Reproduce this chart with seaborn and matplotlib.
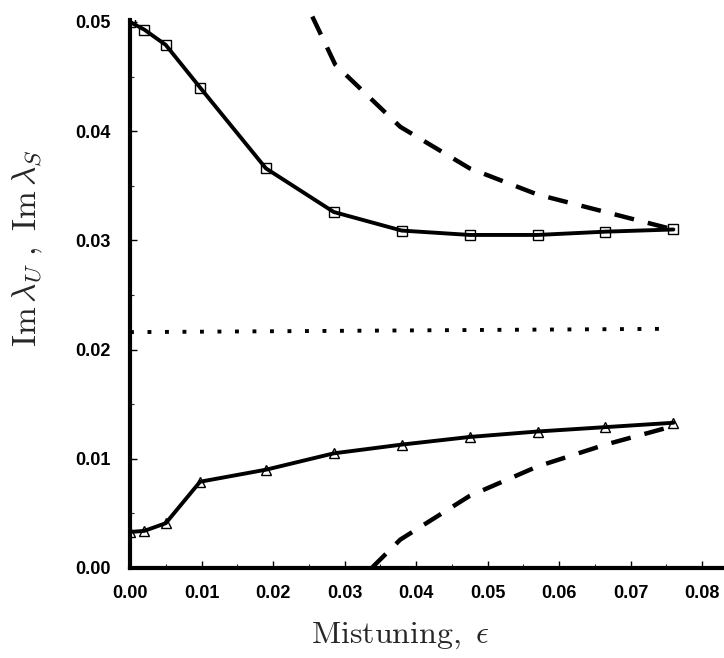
import matplotlib
matplotlib.use("Agg")
import matplotlib.pyplot as plt
import seaborn as sns
import numpy as np
from matplotlib.ticker import MultipleLocator

# ---- data ----
eps = [0.0, 0.002, 0.005, 0.0098, 0.019, 0.0285, 0.038, 0.0475, 0.057, 0.0665, 0.076]
im_upper_solid = [0.0500, 0.0493, 0.0479, 0.0440, 0.0366, 0.0326, 0.0309, 0.0305, 0.0305, 0.0308, 0.0310]
im_lower_solid = [0.0033, 0.0034, 0.0041, 0.0079, 0.0090, 0.0105, 0.0113, 0.0120, 0.0125, 0.0129, 0.0133]

eps_upper_dash = [0.0255, 0.0287, 0.0378, 0.0475, 0.057, 0.0665, 0.076]
im_upper_dash = [0.0505, 0.0461, 0.0404, 0.0366, 0.0342, 0.0326, 0.0310]

eps_lower_dash = [0.0338, 0.0378, 0.0475, 0.057, 0.0665, 0.076]
im_lower_dash = [0.0000, 0.0026, 0.0066, 0.0093, 0.0113, 0.0130]

eps_dot = [0.0, 0.0745]
im_dot = [0.0216, 0.0219]

xticks = [0.00, 0.01, 0.02, 0.03, 0.04, 0.05, 0.06, 0.07, 0.08]
yticks = [0.00, 0.01, 0.02, 0.03, 0.04, 0.05]

sns.set_style("ticks")
plt.rcParams['font.family'] = ['Liberation Sans', 'DejaVu Sans']
plt.rcParams['mathtext.fontset'] = 'cm'

fig = plt.figure(figsize=(7.24, 6.58), dpi=100)
ax = fig.add_axes([130/724, 1-568/658, 592/724, 548/658])

sns.lineplot(x=eps, y=im_upper_solid, ax=ax, color='black', lw=2.8,
             marker='s', markersize=7.5, markerfacecolor='none',
             markeredgecolor='black', markeredgewidth=1.0)
sns.lineplot(x=eps, y=im_lower_solid, ax=ax, color='black', lw=2.8,
             marker='^', markersize=7.5, markerfacecolor='none',
             markeredgecolor='black', markeredgewidth=1.0)
sns.lineplot(x=eps_upper_dash, y=im_upper_dash, ax=ax, color='black', lw=3.2,
             linestyle=(0, (4.5, 3.2)), clip_on=False)
sns.lineplot(x=eps_lower_dash, y=im_lower_dash, ax=ax, color='black', lw=3.2,
             linestyle=(0, (4.5, 3.2)))
sns.lineplot(x=eps_dot, y=im_dot, ax=ax, color='black', lw=2.8,
             linestyle=(0, (1.0, 3.5)))

ax.set_xlim(0, 592/7150)
ax.set_ylim(0, 548/10920)
ax.set_xticks(xticks)
ax.set_yticks(yticks)
ax.set_xticklabels([f"{t:.2f}" for t in xticks])
ax.set_yticklabels([f"{t:.2f}" for t in yticks])
ax.xaxis.set_minor_locator(MultipleLocator(0.005))
ax.yaxis.set_minor_locator(MultipleLocator(0.005))
ax.tick_params(which='major', direction='in', length=5, width=1.0,
               labelsize=13, colors='black')
ax.tick_params(axis='y', which='major', pad=14)
ax.tick_params(axis='x', which='major', pad=12)
ax.tick_params(which='minor', direction='in', length=3, width=0.8)
for lab in ax.get_xticklabels() + ax.get_yticklabels():
    lab.set_fontweight('bold')

for s in ['top', 'right']:
    ax.spines[s].set_visible(False)
for s in ['left', 'bottom']:
    ax.spines[s].set_linewidth(3.0)
    ax.spines[s].set_color('black')

ax.set_xlabel(r"$\mathrm{Mistuning,}\ \epsilon$", fontsize=23)
ax.xaxis.label.set_va('baseline')
ax.xaxis.set_label_coords((400-130)/592, (568-643)/548)
ax.set_ylabel(r"$\mathrm{Im}\,\lambda_U\ ,\ \mathrm{Im}\,\lambda_S$", fontsize=24)
ax.yaxis.label.set_va('center')
ax.yaxis.set_label_coords((28-130)/592, (568-248)/548)

fig.savefig("out.png", dpi=100)
